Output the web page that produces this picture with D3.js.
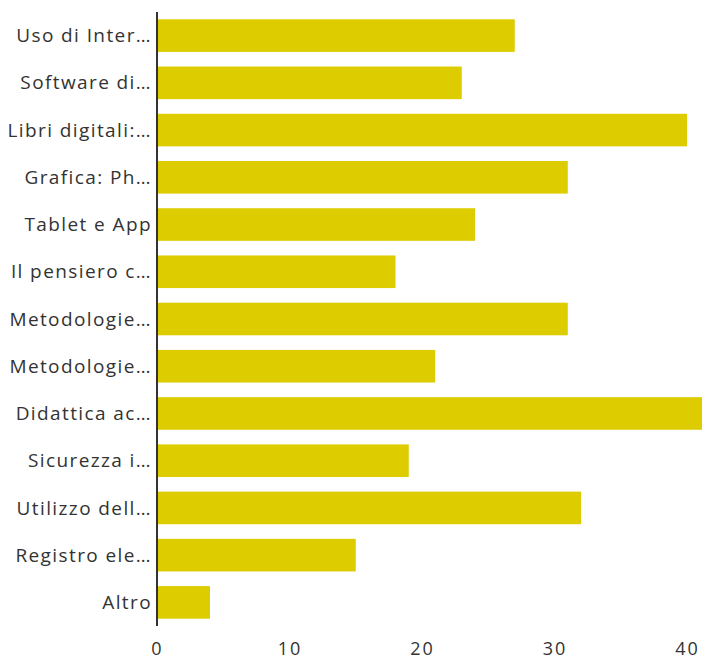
<!DOCTYPE html>
<html>
<head>
<meta charset="utf-8">
<script src="https://cdn.jsdelivr.net/npm/d3@7"></script>
<style>
  body { margin: 0; background: #fff; }
  svg { display: block; }
</style>
</head>
<body>
<script>
// Data
const labels = ["Uso di Inter…", "Software di…", "Libri digitali:…", "Grafica: Ph…", "Tablet e App",
  "Il pensiero c…", "Metodologie…", "Metodologie…", "Didattica ac…", "Sicurezza i…",
  "Utilizzo dell…", "Registro ele…", "Altro"];
const values = [27, 23, 40, 31, 24, 18, 31, 21, 42, 19, 32, 15, 4];
const ticks = [0, 10, 20, 30, 40];

const width = 702;
const height = 661;

const svg = d3.select("body").append("svg")
    .attr("width", width)
    .attr("height", height);

// labels get cut at the left edge
svg.append("clipPath")
    .attr("id", "labelclip")
    .append("rect")
    .attr("x", 9)
    .attr("y", 0)
    .attr("width", 150)
    .attr("height", height);

const x = d3.scaleLinear()
    .domain([0, 40])
    .range([157, 687]);

const y = d3.scaleBand()
    .domain(d3.range(labels.length))
    .range([12, 626])
    .paddingInner(0.31)
    .paddingOuter(0.155);

// bars
svg.append("g").selectAll("rect")
    .data(values)
    .enter()
    .append("rect")
    .attr("x", x(0))
    .attr("y", (d, i) => y(i))
    .attr("width", d => x(d) - x(0))
    .attr("height", y.bandwidth())
    .attr("fill", "#DDCC00");

// y labels
svg.append("g")
    .attr("clip-path", "url(#labelclip)")
    .selectAll("text")
    .data(labels)
    .enter()
    .append("text")
    .attr("x", 152)
    .attr("y", (d, i) => y(i) + y.bandwidth() / 2)
    .attr("dy", "0.35em")
    .attr("text-anchor", "end")
    .style("font-family", "Open Sans, sans-serif")
    .style("font-size", "19px")
    .style("letter-spacing", "1.4px")
    .style("fill", "#333")
    .text(d => d);

// axis line
svg.append("line")
    .attr("x1", x(0))
    .attr("x2", x(0))
    .attr("y1", 12)
    .attr("y2", 626)
    .attr("stroke", "#333")
    .attr("stroke-width", 2);

// x tick labels
const xAxis = d3.axisBottom(x)
    .tickValues(ticks)
    .tickSize(0)
    .tickPadding(0);
const gx = svg.append("g")
    .attr("transform", "translate(0,642)")
    .call(xAxis);
gx.select(".domain").remove();
gx.selectAll("text")
    .style("font-family", "Open Sans, sans-serif")
    .style("font-size", "18px")
    .style("letter-spacing", "2px")
    .style("fill", "#333");
</script>
</body>
</html>
